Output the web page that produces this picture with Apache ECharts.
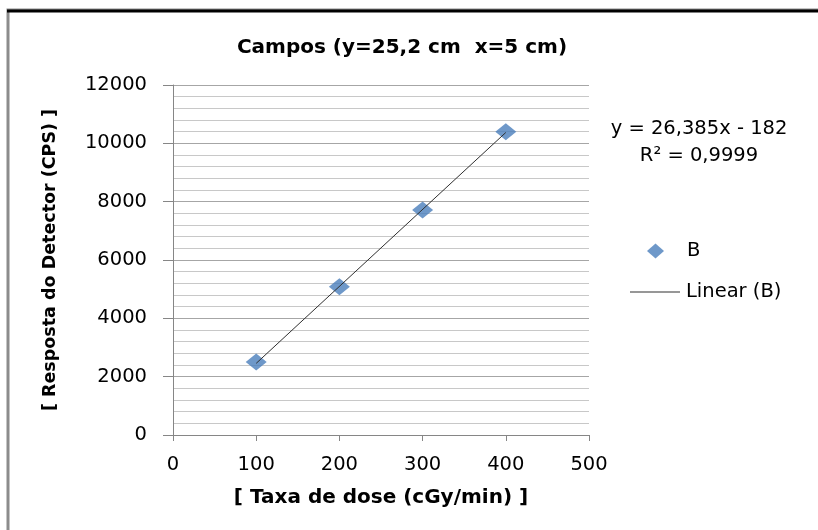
<!DOCTYPE html>
<html>
<head>
<meta charset="utf-8">
<script src="https://cdn.jsdelivr.net/npm/echarts@6/dist/echarts.min.js"></script>
<style>html,body{margin:0;padding:0;background:#fff}#c{width:818px;height:530px}</style>
</head>
<body>
<div id="c"></div>
<script>
const doseRates = [100, 200, 300, 400];
const detectorResponse = [2505, 5085, 7715, 10400];
const trendX = [100, 400];
const trendY = [2456.5, 10372];
const xTicks = [0, 100, 200, 300, 400, 500];
const yTicks = [0, 2000, 4000, 6000, 8000, 10000, 12000];
const equationText = ['y = 26,385x - 182', 'R² = 0,9999'];

const FONT = '"DejaVu Sans", sans-serif';
const chart = echarts.init(document.getElementById('c'));
chart.setOption({
  animation: false,
  backgroundColor: '#fff',
  title: {
    text: 'Campos (y=25,2 cm  x=5 cm)',
    left: 397, top: 33, textAlign: 'center',
    textStyle: { fontFamily: FONT, fontSize: 20, fontWeight: 'bold', color: '#000' }
  },
  grid: { left: 173, right: 229, top: 85, bottom: 95 },
  xAxis: {
    type: 'value', min: xTicks[0], max: xTicks[xTicks.length - 1], interval: 100,
    name: '[ Taxa de dose (cGy/min) ]', nameLocation: 'middle', nameGap: 53,
    nameTextStyle: { fontFamily: FONT, fontSize: 20, fontWeight: 'bold', color: '#000' },
    axisLine: { lineStyle: { color: '#868686', width: 1 } },
    axisTick: { show: true, length: 6, lineStyle: { color: '#868686' } },
    axisLabel: { fontFamily: FONT, fontSize: 19.5, color: '#000', margin: 20, formatter: v => String(v) },
    splitLine: { show: false }
  },
  yAxis: {
    type: 'value', min: yTicks[0], max: yTicks[yTicks.length - 1], interval: 2000,
    name: '[ Resposta do Detector (CPS) ]', nameLocation: 'middle', nameGap: 114,
    nameTextStyle: { fontFamily: FONT, fontSize: 17.5, fontWeight: 'bold', color: '#000' },
    axisLine: { show: true, lineStyle: { color: '#868686', width: 1 } },
    axisTick: { show: true, length: 10, lineStyle: { color: '#868686' } },
    axisLabel: { fontFamily: FONT, fontSize: 19.5, color: '#000', margin: 26, formatter: v => String(v) },
    splitLine: { show: true, lineStyle: { color: '#a6a6a6', width: 1 } },
    minorTick: { show: false, splitNumber: 5 },
    minorSplitLine: { show: true, lineStyle: { color: '#c8c8c8', width: 1 } }
  },
  legend: [
    {
      left: 642, top: 236, itemWidth: 17, itemHeight: 15, icon: 'diamond',
      textStyle: { fontFamily: FONT, fontSize: 19.5, color: '#000', padding: [0, 0, 0, 18] },
      data: ['B']
    },
    {
      left: 625, top: 277, itemWidth: 50, itemHeight: 1, icon: 'rect',
      textStyle: { fontFamily: FONT, fontSize: 19.5, color: '#000', padding: [0, 0, 0, 1] },
      data: ['Linear (B)']
    }
  ],
  series: [
    {
      name: 'Linear (B)', type: 'line', symbol: 'none', z: 3,
      data: trendX.map((x, i) => [x, trendY[i]]),
      itemStyle: { color: '#303030' },
      lineStyle: { color: '#303030', width: 1 }
    },
    {
      name: 'B', type: 'scatter', symbol: 'diamond', symbolSize: [21, 17], z: 2,
      itemStyle: { color: '#4a7ebb' },
      data: doseRates.map((x, i) => [x, detectorResponse[i]])
    }
  ],
  graphic: [
    { type: 'rect', shape: { x: 8, y: 10, width: 830, height: 540 },
      style: { fill: 'none', stroke: '#8c8c8c', lineWidth: 3 }, z: 10 },
    { type: 'line', shape: { x1: 7, y1: 11, x2: 818, y2: 11 },
      style: { stroke: '#000', lineWidth: 3 }, z: 11 },
    { type: 'text', x: 699, y: 129, style: { text: equationText[0], textAlign: 'center', textVerticalAlign: 'middle',
      font: '19.5px ' + FONT, fill: '#000' } },
    { type: 'text', x: 699, y: 156, style: { text: equationText[1], textAlign: 'center', textVerticalAlign: 'middle',
      font: '19.5px ' + FONT, fill: '#000' } }
  ]
});
</script>
</body>
</html>
